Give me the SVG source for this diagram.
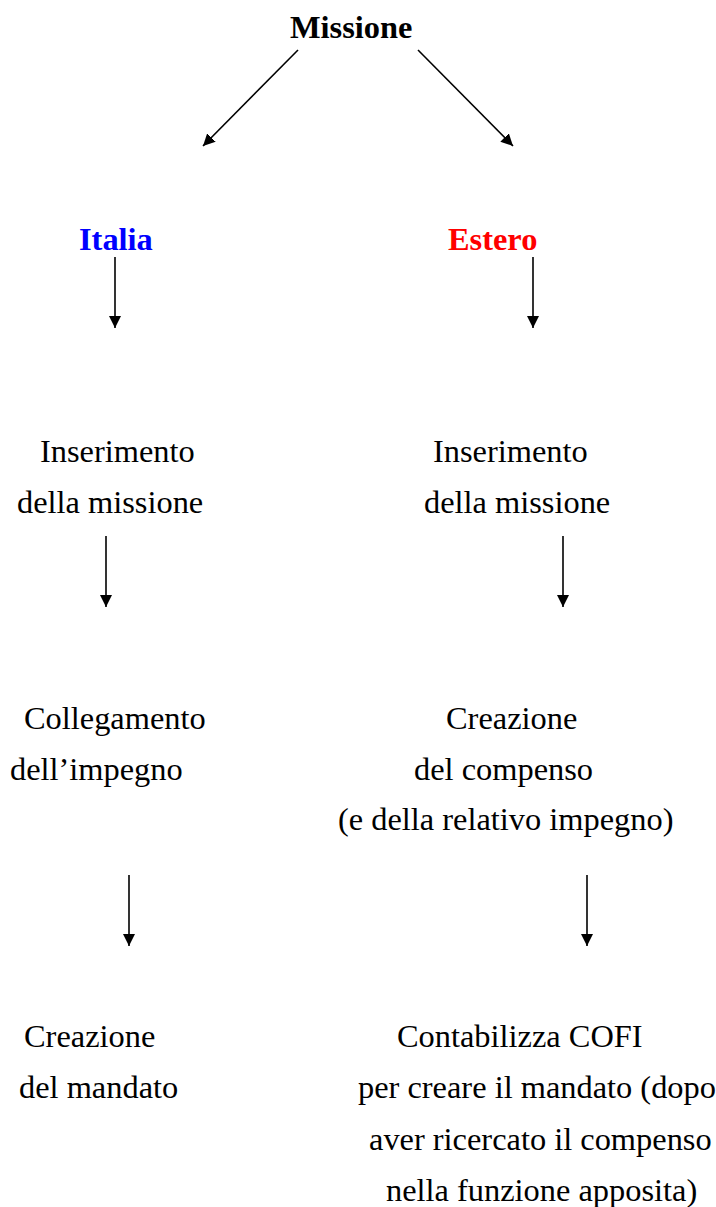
<svg xmlns="http://www.w3.org/2000/svg" width="716" height="1207" viewBox="0 0 716 1207" font-family="'Liberation Serif', 'Times New Roman', serif">
<style>
text{font-family:'Liberation Serif','Times New Roman',serif;font-size:32.4px;fill:#000}
.b{font-weight:bold}
.c{stroke:#000;stroke-width:1.6;fill:none;marker-end:url(#ah)}
</style>
<defs>
<marker id="ah" viewBox="0 0 12 12" refX="12" refY="6" markerWidth="12" markerHeight="12" markerUnits="userSpaceOnUse" orient="auto">
<path d="M0,0 L12,6 L0,12 Z" fill="#000"/>
</marker>
</defs>
<rect width="716" height="1207" fill="#fff"/>
<g id="connectors">
<line class="c" x1="298" y1="50" x2="203" y2="146"/>
<line class="c" x1="418" y1="50" x2="513" y2="146"/>
<line class="c" x1="115" y1="257" x2="115" y2="328"/>
<line class="c" x1="533" y1="257" x2="533" y2="328"/>
<line class="c" x1="106" y1="536" x2="106" y2="607"/>
<line class="c" x1="563" y1="536" x2="563" y2="607"/>
<line class="c" x1="129" y1="875" x2="129" y2="946"/>
<line class="c" x1="587" y1="875" x2="587" y2="946"/>
</g>
<g id="missione"><text class="b" x="290" y="38">Missione</text></g>
<g id="italia"><text class="b" x="79" y="250" fill="#0000ff" style="fill:#0000ff">Italia</text></g>
<g id="estero"><text class="b" x="448" y="250" fill="#ff0000" style="fill:#ff0000">Estero</text></g>
<g id="ins-italia"><text x="40" y="462">Inserimento</text><text x="17" y="513">della missione</text></g>
<g id="ins-estero"><text x="433" y="462">Inserimento</text><text x="424" y="513">della missione</text></g>
<g id="collegamento"><text x="24" y="729">Collegamento</text><text x="10" y="780">dell’impegno</text></g>
<g id="creazione-compenso"><text x="446" y="729">Creazione</text><text x="414" y="780">del compenso</text><text x="338" y="830">(e della relativo impegno)</text></g>
<g id="creazione-mandato"><text x="24" y="1047">Creazione</text><text x="19" y="1098">del mandato</text></g>
<g id="contabilizza"><text x="397" y="1047">Contabilizza COFI</text><text x="358" y="1098">per creare il mandato (dopo</text><text x="369" y="1150">aver ricercato il compenso</text><text x="386" y="1201">nella funzione apposita)</text></g>
</svg>
